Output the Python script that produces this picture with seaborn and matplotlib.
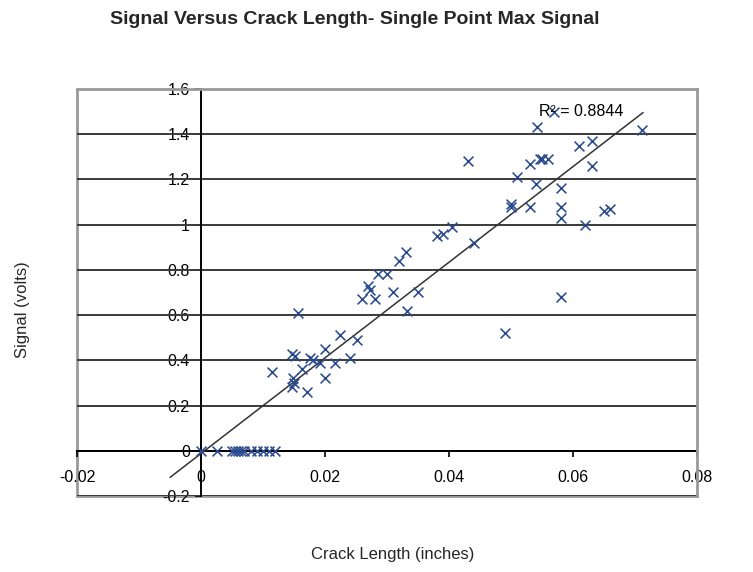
import numpy as np
import pandas as pd
import matplotlib
matplotlib.use("Agg")
import matplotlib.pyplot as plt
import seaborn as sns
from matplotlib import font_manager

# ---- data ----
crack_zero = [0.0, 0.0025, 0.005, 0.0055, 0.006, 0.0065, 0.007, 0.008, 0.009, 0.010, 0.011, 0.012]
signal_zero = [0.0] * len(crack_zero)

crack_main = [0.0156, 0.0224, 0.0252, 0.0147, 0.0152, 0.0176, 0.0200, 0.0180, 0.0192, 0.0216,
              0.0240, 0.0115, 0.0163, 0.0148, 0.0147, 0.0150, 0.0200, 0.0171,
              0.0405, 0.0390, 0.0380, 0.0330, 0.0320, 0.0300, 0.0286, 0.0270, 0.0273,
              0.0260, 0.0280, 0.0310, 0.0350, 0.0332, 0.0440,
              0.0542, 0.0570, 0.0711, 0.0630, 0.0610, 0.0560, 0.0550, 0.0547, 0.0530,
              0.0630, 0.0510, 0.0540, 0.0580, 0.0500, 0.0500, 0.0530, 0.0580, 0.0580,
              0.0650, 0.0660, 0.0620, 0.0430, 0.0580, 0.0490]
signal_main = [0.61, 0.51, 0.49, 0.43, 0.42, 0.41, 0.45, 0.40, 0.39, 0.39,
               0.41, 0.35, 0.36, 0.32, 0.28, 0.30, 0.32, 0.26,
               0.99, 0.96, 0.95, 0.88, 0.84, 0.78, 0.78, 0.73, 0.71,
               0.67, 0.67, 0.70, 0.70, 0.62, 0.92,
               1.43, 1.50, 1.42, 1.37, 1.35, 1.29, 1.29, 1.29, 1.27,
               1.26, 1.21, 1.18, 1.16, 1.09, 1.08, 1.08, 1.08, 1.03,
               1.06, 1.07, 1.00, 1.28, 0.68, 0.52]

x_ticks = [-0.02, 0.0, 0.02, 0.04, 0.06, 0.08]
x_tick_labels = ["-0.02", "0", "0.02", "0.04", "0.06", "0.08"]
y_ticks = [-0.2, 0.0, 0.2, 0.4, 0.6, 0.8, 1.0, 1.2, 1.4, 1.6]
y_tick_labels = ["-0.2", "0", "0.2", "0.4", "0.6", "0.8", "1", "1.2", "1.4", "1.6"]
trend_range = [-0.005, 0.0713]
r2_label = "R² = 0.8844"

df = pd.DataFrame({"crack": crack_zero + crack_main,
                   "signal": signal_zero + signal_main})

sns.set_theme(style="white")
names = {f.name for f in font_manager.fontManager.ttflist}
narrow = "Liberation Sans Narrow" if "Liberation Sans Narrow" in names else "Liberation Sans"
plt.rcParams["font.family"] = [narrow, "DejaVu Sans"]

fig = plt.figure(figsize=(7.53, 5.72), dpi=100)
ax = fig.add_axes([0.1023, 0.1329, 0.8234, 0.7115])

ax.set_xlim(-0.02, 0.08)
ax.set_ylim(-0.2, 1.6)

# horizontal grid
for yv in y_ticks:
    ax.axhline(yv, color="#3a3a3a", lw=1.4, zorder=1)

# trend line
coef = np.polyfit(df["crack"], df["signal"], 1)
tx = np.array(trend_range)
sns.lineplot(x=tx, y=np.polyval(coef, tx), ax=ax, color="#333333", lw=1.1, zorder=3)

sns.scatterplot(data=df, x="crack", y="signal", ax=ax, marker="x", s=50,
                color="#2a4a8f", linewidth=1.15, zorder=4)

# crossing axes at zero
ax.spines["left"].set_position(("data", 0))
ax.spines["bottom"].set_position(("data", 0))
for s in ["left", "bottom"]:
    ax.spines[s].set_color("black")
    ax.spines[s].set_linewidth(1.4)
    ax.spines[s].set_zorder(2)
for s in ["top", "right"]:
    ax.spines[s].set_color("#999999")
    ax.spines[s].set_linewidth(2)
# outer frame left/bottom
ax.plot([0, 0], [0, 1], transform=ax.transAxes, color="#999999", lw=2, clip_on=False, zorder=0)
ax.plot([0, 1], [0, 0], transform=ax.transAxes, color="#999999", lw=2, clip_on=False, zorder=0)

ax.set_xticks(x_ticks)
ax.set_xticklabels(x_tick_labels)
ax.set_yticks(y_ticks)
ax.set_yticklabels(y_tick_labels)
ax.tick_params(axis="both", which="both", direction="out", length=4, width=1.2,
               color="black", labelsize=11.5, labelcolor="black")
ax.tick_params(axis="x", pad=10, bottom=True)
ax.tick_params(axis="y", pad=4, left=True)

ax.set_xlabel("")
ax.set_ylabel("")
fig.text(0.522, 0.03, "Crack Length (inches)", ha="center", va="center", fontsize=12)
fig.text(0.03, 0.458, "Signal (volts)", ha="center", va="center", rotation=90, fontsize=12)
fig.text(0.471, 0.966, "Signal Versus Crack Length- Single Point Max Signal",
         ha="center", va="center", fontsize=14, fontweight="bold")

ax.text(0.0545, 1.50, r2_label, ha="left", va="center", fontsize=11.5, color="black", zorder=5)

fig.savefig("out.png", dpi=100)
